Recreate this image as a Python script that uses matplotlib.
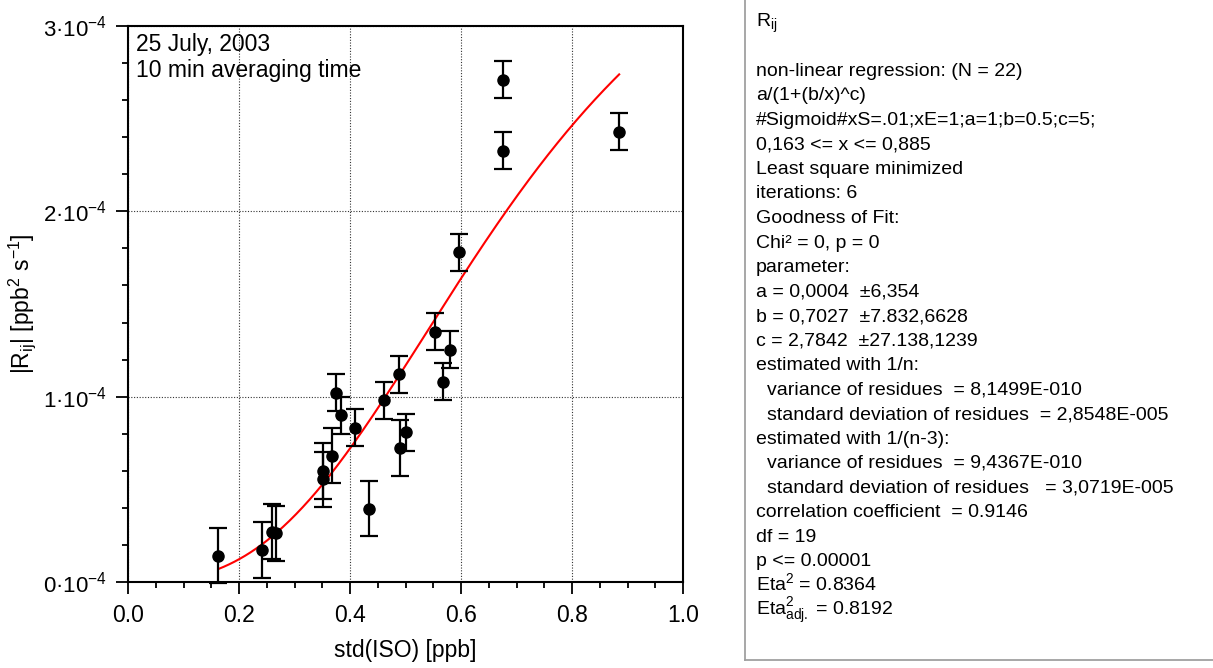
import numpy as np
import matplotlib
matplotlib.use("Agg")
import matplotlib.pyplot as plt
from matplotlib.ticker import FixedLocator, FixedFormatter, MultipleLocator
from matplotlib.lines import Line2D

plt.rcParams['font.family'] = ['Liberation Sans', 'DejaVu Sans']
plt.rcParams['mathtext.fontset'] = 'custom'
plt.rcParams['mathtext.rm'] = 'Liberation Sans'
plt.rcParams['mathtext.it'] = 'Liberation Sans:italic'
plt.rcParams['mathtext.bf'] = 'Liberation Sans:bold'
plt.rcParams['mathtext.default'] = 'regular'

# ---------------- data ----------------
std_iso = [0.163, 0.241, 0.260, 0.266, 0.352, 0.352, 0.368, 0.374, 0.384, 0.409, 0.434,
           0.461, 0.488, 0.490, 0.500, 0.554, 0.567, 0.580, 0.597, 0.675, 0.676, 0.885]
rij = [0.142, 0.174, 0.272, 0.262, 0.599, 0.554, 0.682, 1.022, 0.900, 0.833, 0.396,
       0.981, 1.122, 0.722, 0.808, 1.351, 1.081, 1.252, 1.779, 2.709, 2.326, 2.430]  # x 1e-4
rij_err = [0.15, 0.15, 0.15, 0.15, 0.15, 0.15, 0.15, 0.10, 0.10, 0.10, 0.15,
           0.10, 0.10, 0.15, 0.10, 0.10, 0.10, 0.10, 0.10, 0.10, 0.10, 0.10]  # x 1e-4
scale = 1e-4

# sigmoid fit a/(1+(b/x)^c)
fit_a = 0.000418
fit_b = 0.7027
fit_c = 2.7842
fit_xmin, fit_xmax = 0.163, 0.885

xticks = [0.0, 0.2, 0.4, 0.6, 0.8, 1.0]
xtick_labels = ['0.0', '0.2', '0.4', '0.6', '0.8', '1.0']
yticks = [0, 1, 2, 3]  # x 1e-4
ytick_labels = ['0·10$^{-4}$', '1·10$^{-4}$', '2·10$^{-4}$', '3·10$^{-4}$']

annotation_lines = ['25 July, 2003', '10 min averaging time']

panel_lines = [
    'non-linear regression: (N = 22)',
    'a/(1+(b/x)^c)',
    '#Sigmoid#xS=.01;xE=1;a=1;b=0.5;c=5;',
    '0,163 <= x <= 0,885',
    'Least square minimized',
    'iterations: 6',
    'Goodness of Fit:',
    'Chi² = 0, p = 0',
    'parameter:',
    'a = 0,0004  ±6,354',
    'b = 0,7027  ±7.832,6628',
    'c = 2,7842  ±27.138,1239',
    'estimated with 1/n:',
    '  variance of residues  = 8,1499E-010',
    '  standard deviation of residues  = 2,8548E-005',
    'estimated with 1/(n-3):',
    '  variance of residues  = 9,4367E-010',
    '  standard deviation of residues   = 3,0719E-005',
    'correlation coefficient  = 0.9146',
    'df = 19',
    'p <= 0.00001',
    'Eta$^2$ = 0.8364',
    'Eta$^2_{adj.}$ = 0.8192',
]

# ---------------- figure ----------------
W, H = 1213, 668
fig = plt.figure(figsize=(W / 100, H / 100), dpi=100)
ax = fig.add_axes([128 / W, 1 - 582 / H, (683 - 128) / W, (582 - 26) / H])

x = np.array(std_iso)
y = np.array(rij) * scale
e = np.array(rij_err) * scale

ax.errorbar(x, y, yerr=e, fmt='o', color='black', markersize=8,
            elinewidth=1.6, capsize=6.2, capthick=1.6, zorder=3, clip_on=False)

xf = np.linspace(fit_xmin, fit_xmax, 300)
yf = fit_a / (1 + (fit_b / xf) ** fit_c)
ax.plot(xf, yf, color='#ff0000', lw=1.5, zorder=2)

ax.set_xlim(0, 1.0)
ax.set_ylim(0, 3 * scale)

ax.xaxis.set_major_locator(FixedLocator(xticks))
ax.xaxis.set_major_formatter(FixedFormatter(xtick_labels))
ax.xaxis.set_minor_locator(MultipleLocator(0.05))
ax.yaxis.set_major_locator(FixedLocator([v * scale for v in yticks]))
ax.yaxis.set_major_formatter(FixedFormatter(ytick_labels))
ax.yaxis.set_minor_locator(MultipleLocator(0.2 * scale))

ax.tick_params(axis='both', which='major', direction='out', length=8.3, width=1.3,
               colors='black')
ax.tick_params(axis='x', which='major', labelsize=16.5, pad=7.5)
ax.tick_params(axis='y', which='major', labelsize=16, pad=6.5)
ax.tick_params(axis='both', which='minor', direction='out', length=4.5, width=1.3)
ax.tick_params(top=False, right=False, which='both')

for sp in ax.spines.values():
    sp.set_linewidth(1.5)
    sp.set_color('black')

ax.grid(True, which='major', color='#333333', linestyle=(0, (1, 1.5)), linewidth=0.8)
ax.set_axisbelow(True)

ax.set_xlabel('std(ISO) [ppb]', fontsize=16.5, labelpad=9)
ax.set_ylabel('|R$_{ij}$| [ppb$^2$ s$^{-1}$]', fontsize=16.5)
ax.yaxis.set_label_coords(-0.162, 0.5)

ax.text(0.0144, 0.9556, annotation_lines[0], transform=ax.transAxes, fontsize=16.5,
        va='baseline', ha='left')
ax.text(0.0144, 0.9077, annotation_lines[1], transform=ax.transAxes, fontsize=16.5,
        va='baseline', ha='left')

# ---------------- statistics panel ----------------
fig.add_artist(Line2D([745 / W, 745 / W], [1.0, 1 - 660 / H], color='#a0a0a0', lw=1.3,
                      transform=fig.transFigure))
fig.add_artist(Line2D([745 / W, 1.0], [1 - 660 / H, 1 - 660 / H], color='#a0a0a0', lw=1.3,
                      transform=fig.transFigure))

x0 = 756 / W
fig.text(x0, 1 - 26.7 / H, 'R$_{ij}$', fontsize=14, va='baseline', ha='left')
base = 76.0
step = 24.5
for i, line in enumerate(panel_lines):
    indent = 0
    txt = line
    if line.startswith('  '):
        indent = 11 / W
        txt = line.lstrip(' ')
    fig.text(x0 + indent, 1 - (base + i * step) / H, txt, fontsize=14,
             va='baseline', ha='left')

fig.savefig('out.png', dpi=100)
